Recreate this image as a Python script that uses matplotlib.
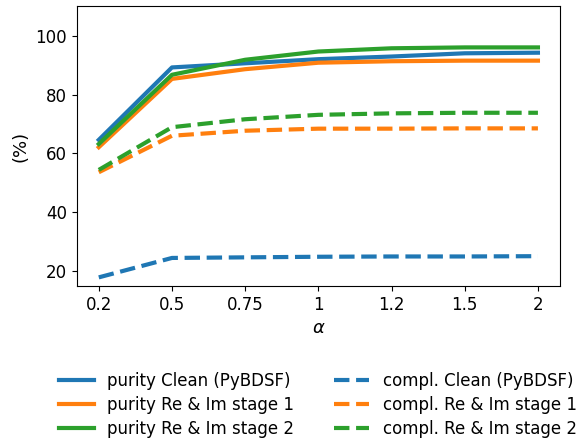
import matplotlib
matplotlib.use("Agg")
import matplotlib.pyplot as plt

alphas = ["0.2", "0.5", "0.75", "1", "1.2", "1.5", "2"]

purity_clean = [64.6, 89.2, 90.6, 92.0, 92.9, 94.0, 94.2]
purity_stage1 = [62.1, 85.3, 88.6, 90.8, 91.3, 91.5, 91.5]
purity_stage2 = [63.2, 86.7, 91.8, 94.6, 95.7, 96.0, 96.0]

compl_clean = [17.9, 24.5, 24.7, 24.9, 25.0, 25.0, 25.1]
compl_stage1 = [53.6, 66.0, 67.7, 68.4, 68.4, 68.5, 68.5]
compl_stage2 = [54.4, 68.9, 71.6, 73.1, 73.6, 73.8, 73.8]

names = ["Clean (PyBDSF)", "Re & Im stage 1", "Re & Im stage 2"]
colors = ["#1f77b4", "#ff7f0e", "#2ca02c"]

fig = plt.figure(figsize=(5.82, 4.41), dpi=100)
ax = fig.add_axes([0.132, 0.351, 0.830, 0.635])
x = range(len(alphas))

for vals, name, c in zip([purity_clean, purity_stage1, purity_stage2], names, colors):
    ax.plot(x, vals, color=c, lw=3, label="purity " + name)
for vals, name, c in zip([compl_clean, compl_stage1, compl_stage2], names, colors):
    ax.plot(x, vals, color=c, lw=3, ls="--", label="compl. " + name)

ax.set_xticks(list(x))
ax.set_xticklabels(alphas)
ax.set_ylim(14.9, 110)
ax.set_yticks([20, 40, 60, 80, 100])
ax.tick_params(labelsize=12)
ax.set_xlabel(r"$\alpha$", fontsize=13)
ax.set_ylabel("(%)", fontsize=13)

fig.legend(loc="center", bbox_to_anchor=(0.546, 0.082), ncol=2,
           frameon=False, fontsize=12, labelspacing=0.35,
           columnspacing=2.4, handlelength=2.1)

fig.savefig("out.png", dpi=100)
